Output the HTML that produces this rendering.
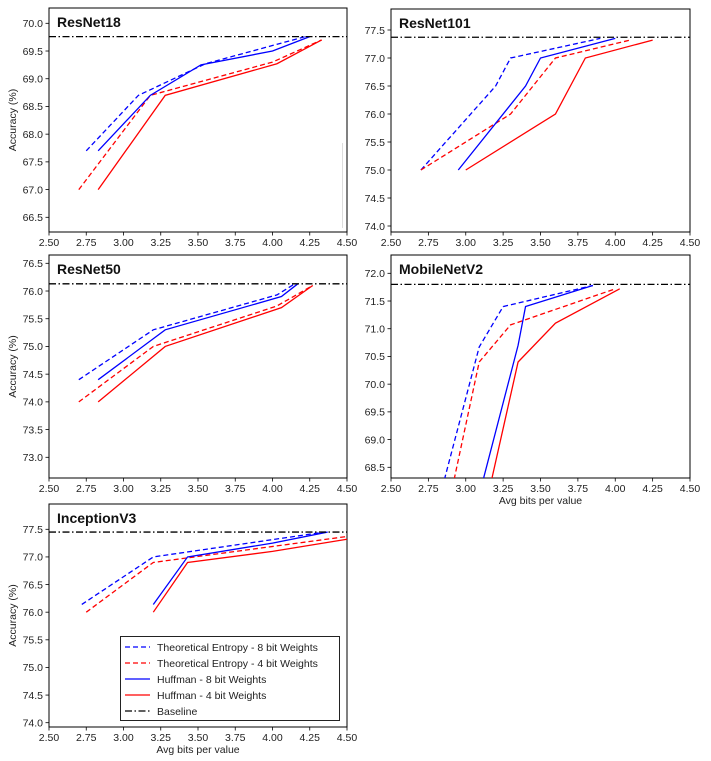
<!DOCTYPE html>
<html><head><meta charset="utf-8"><style>
body{margin:0;background:#fff;}
svg{display:block;font-family:"Liberation Sans","DejaVu Sans",sans-serif;}
</style></head><body>
<svg id="fig" width="711" height="761" viewBox="0 0 711 761" xmlns="http://www.w3.org/2000/svg"></svg>
<script>
const xTicks=[2.5,2.75,3.0,3.25,3.5,3.75,4.0,4.25,4.5];
const seriesNames=["Theoretical Entropy - 8 bit Weights","Theoretical Entropy - 4 bit Weights","Huffman - 8 bit Weights","Huffman - 4 bit Weights","Baseline"];
// ResNet18
const r18_te8_x=[2.75,3.1,3.55,4.22], r18_te8_y=[67.7,68.7,69.27,69.76];
const r18_te4_x=[2.7,3.18,4.0,4.33], r18_te4_y=[67.0,68.7,69.3,69.7];
const r18_h8_x=[2.83,3.18,3.52,4.0,4.25], r18_h8_y=[67.7,68.7,69.25,69.5,69.76];
const r18_h4_x=[2.83,3.28,4.03,4.33], r18_h4_y=[67.0,68.7,69.27,69.7];
const r18_base=69.76;
const r18_yticks=[66.5,67.0,67.5,68.0,68.5,69.0,69.5,70.0];
// ResNet101
const r101_te8_x=[2.7,3.2,3.3,3.9], r101_te8_y=[75.0,76.5,77.0,77.35];
const r101_te4_x=[2.7,3.3,3.6,4.1], r101_te4_y=[75.0,76.0,77.0,77.32];
const r101_h8_x=[2.95,3.4,3.5,4.0], r101_h8_y=[75.0,76.5,77.0,77.35];
const r101_h4_x=[3.0,3.6,3.8,4.25], r101_h4_y=[75.0,76.0,77.0,77.32];
const r101_base=77.37;
const r101_yticks=[74.0,74.5,75.0,75.5,76.0,76.5,77.0,77.5];
// ResNet50
const r50_te8_x=[2.7,3.2,4.03,4.15], r50_te8_y=[74.4,75.3,75.93,76.13];
const r50_te4_x=[2.7,3.2,4.03,4.27], r50_te4_y=[74.0,75.0,75.73,76.1];
const r50_h8_x=[2.83,3.28,4.06,4.17], r50_h8_y=[74.4,75.3,75.9,76.13];
const r50_h4_x=[2.83,3.28,4.06,4.27], r50_h4_y=[74.0,75.0,75.7,76.1];
const r50_base=76.13;
const r50_yticks=[73.0,73.5,74.0,74.5,75.0,75.5,76.0,76.5];
// MobileNetV2
const mb_te8_x=[2.83,3.09,3.25,3.85], mb_te8_y=[68.0,70.67,71.4,71.78];
const mb_te4_x=[2.9,3.09,3.3,4.0], mb_te4_y=[68.0,70.4,71.07,71.72];
const mb_h8_x=[3.09,3.35,3.4,3.85], mb_h8_y=[68.0,70.7,71.4,71.78];
const mb_h4_x=[3.15,3.35,3.6,4.03], mb_h4_y=[68.0,70.4,71.1,71.72];
const mb_base=71.8;
const mb_yticks=[68.5,69.0,69.5,70.0,70.5,71.0,71.5,72.0];
// InceptionV3
const iv_te8_x=[2.72,3.2,4.35], iv_te8_y=[76.14,77.0,77.45];
const iv_te4_x=[2.75,3.2,4.5], iv_te4_y=[76.0,76.9,77.37];
const iv_h8_x=[3.2,3.43,4.0,4.37], iv_h8_y=[76.14,77.0,77.25,77.45];
const iv_h4_x=[3.2,3.43,4.0,4.5], iv_h4_y=[76.0,76.9,77.1,77.32];
const iv_base=77.45;
const iv_yticks=[74.0,74.5,75.0,75.5,76.0,76.5,77.0,77.5];

const NS="http://www.w3.org/2000/svg";
const svg=document.getElementById('fig');
function el(tag,attrs,parent){const e=document.createElementNS(NS,tag);for(const k in attrs)e.setAttribute(k,attrs[k]);(parent||svg).appendChild(e);return e;}
const styles=[{c:"#0000ff",d:"5,3"},{c:"#ff0000",d:"5,3"},{c:"#0000ff",d:""},{c:"#ff0000",d:""}];
const slugs=["entropy-8bit","entropy-4bit","huffman-8bit","huffman-4bit"];

function panel(id,title,box,yA,yB,yticks,series,base,ylab,xlab){
  const g=el('g',{});
  
  
  const [x0,y0,x1,y1]=box;
  const sx=v=>box[0]+(v-2.5)/(2.0)*(x1-x0);
  const sy=v=>yA[1]+(v-yA[0])/(yB[0]-yA[0])*(yB[1]-yA[1]);
  const cid='clip-'+id;
  const cp=el('clipPath',{id:cid},g);el('rect',{x:x0,y:y0,width:x1-x0,height:y1-y0},cp);
  const frame=el('rect',{x:x0,y:y0,width:x1-x0,height:y1-y0,fill:'none',stroke:'#000','stroke-width':1},g);
  
  
  xTicks.forEach(t=>{const x=sx(t);
    el('line',{x1:x,y1:y1,x2:x,y2:y1+3.5,stroke:'#000','stroke-width':0.8},g);
    const tx=el('text',{x:x,y:y1+14,'font-size':10.5,'text-anchor':'middle',fill:'#222'},g);tx.textContent=t.toFixed(2);
    
    
  });
  yticks.forEach(t=>{const y=sy(t);
    el('line',{x1:x0,y1:y,x2:x0-3.5,y2:y,stroke:'#000','stroke-width':0.8},g);
    const tx=el('text',{x:x0-6,y:y+3.8,'font-size':10.5,'text-anchor':'end',fill:'#222'},g);tx.textContent=t.toFixed(1);
    
    
  });
  const cg=el('g',{'clip-path':'url(#'+cid+')'},g);
  series.forEach((s,i)=>{
    const pts=s[0].map((xv,k)=>sx(xv).toFixed(2)+','+sy(s[1][k]).toFixed(2)).join(' ');
    const pl=el('polyline',{points:pts,fill:'none',stroke:styles[i].c,'stroke-width':1.3},cg);
    if(styles[i].d)pl.setAttribute('stroke-dasharray',styles[i].d);
    
    
  });
  const bl=el('line',{x1:x0,y1:sy(base),x2:x1,y2:sy(base),stroke:'#000','stroke-width':1.3,'stroke-dasharray':'7,2.5,1.5,2.5'},cg);
  
  
  const tt=el('text',{x:x0+8,y:y0+19,'font-size':14,'font-weight':'bold',fill:'#111'},g);tt.textContent=title;
  
  
  if(ylab){const yl=el('text',{x:0,y:0,'font-size':10.5,'text-anchor':'middle',fill:'#222',transform:'translate(16,'+((y0+y1)/2)+') rotate(-90)'},g);yl.textContent='Accuracy (%)';
    
    }
  if(xlab){const xl=el('text',{x:(x0+x1)/2,y:y1+26,'font-size':10.5,'text-anchor':'middle',fill:'#222'},g);xl.textContent='Avg bits per value';
    
    }
  return {g,sx,sy};
}
panel('resnet18','ResNet18',[49,8,347,232],[70.0,23.3],[66.5,217.3],r18_yticks,
 [[r18_te8_x,r18_te8_y],[r18_te4_x,r18_te4_y],[r18_h8_x,r18_h8_y],[r18_h4_x,r18_h4_y]],r18_base,true,false);
const faint=el('line',{x1:342.5,y1:143,x2:342.5,y2:228,stroke:'#ddd','stroke-width':1});


panel('resnet101','ResNet101',[391,9,690,232],[77.5,30],[74.0,226],r101_yticks,
 [[r101_te8_x,r101_te8_y],[r101_te4_x,r101_te4_y],[r101_h8_x,r101_h8_y],[r101_h4_x,r101_h4_y]],r101_base,false,false);
panel('resnet50','ResNet50',[49,255,347,478],[76.5,263.3],[73.0,457.3],r50_yticks,
 [[r50_te8_x,r50_te8_y],[r50_te4_x,r50_te4_y],[r50_h8_x,r50_h8_y],[r50_h4_x,r50_h4_y]],r50_base,true,false);
panel('mobilenetv2','MobileNetV2',[391,255,690,478],[72.0,273.3],[68.5,467.3],mb_yticks,
 [[mb_te8_x,mb_te8_y],[mb_te4_x,mb_te4_y],[mb_h8_x,mb_h8_y],[mb_h4_x,mb_h4_y]],mb_base,false,true);
panel('inceptionv3','InceptionV3',[49,504,347,727],[77.5,529.3],[74.0,722.7],iv_yticks,
 [[iv_te8_x,iv_te8_y],[iv_te4_x,iv_te4_y],[iv_h8_x,iv_h8_y],[iv_h4_x,iv_h4_y]],iv_base,true,true);

// legend
const lg=el('g',{});


el('rect',{x:120.5,y:636.5,width:219,height:84,fill:'#fff',stroke:'#222','stroke-width':1},lg);
const lstyles=[...styles,{c:'#000',d:'7,2.5,1.5,2.5'}];
seriesNames.forEach((n,i)=>{
  const y=647+i*16;
  const ln=el('line',{x1:125,y1:y,x2:150,y2:y,stroke:lstyles[i].c,'stroke-width':1.3},lg);
  if(lstyles[i].d)ln.setAttribute('stroke-dasharray',lstyles[i].d);
  const t=el('text',{x:157,y:y+4,'font-size':10.5,fill:'#222'},lg);t.textContent=n;
  
  
});
</script>
</body></html>
